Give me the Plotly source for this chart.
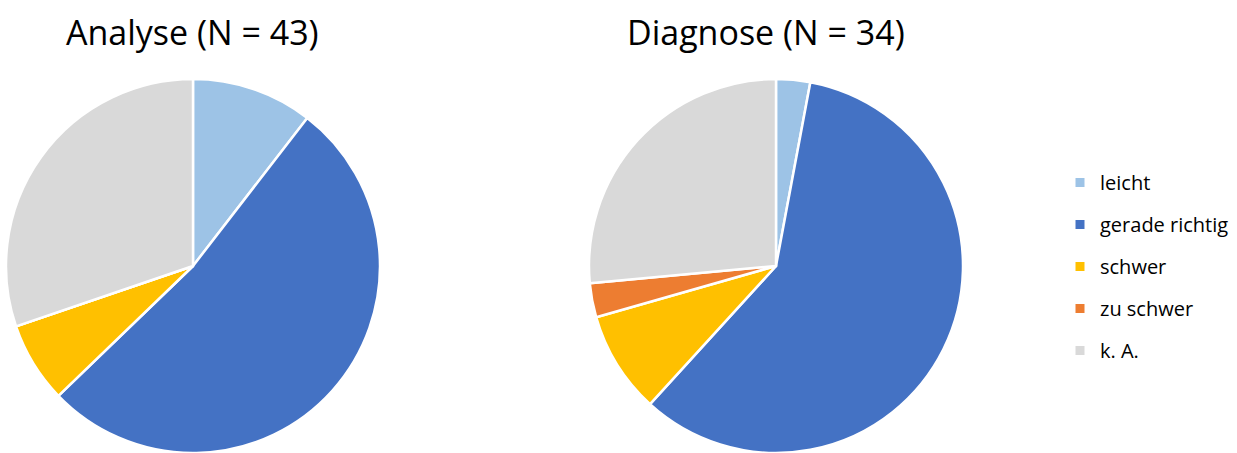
import plotly.graph_objects as go

categories = ["leicht", "gerade richtig", "schwer", "zu schwer", "k. A."]
colors = ["#9DC3E6", "#4472C4", "#FFC000", "#ED7D31", "#D9D9D9"]
analyse_values = [4.5, 22.5, 3, 0, 13]
diagnose_values = [1, 20, 3, 1, 9]
titles = ["Analyse (N = 43)", "Diagnose (N = 34)"]

W, H = 1237, 453
TOP = 79
FONT = "Open Sans"

fig = go.Figure()

def pie(values, cx, r, name):
    return go.Pie(
        labels=categories, values=values, name=name,
        marker=dict(colors=colors, line=dict(color="white", width=2.5)),
        sort=False, direction="clockwise", rotation=0,
        textinfo="none", hoverinfo="label+value", showlegend=False,
        domain=dict(x=[(cx - r) / W, (cx + r) / W], y=[0, 1]),
    )

fig.add_trace(pie(analyse_values, 193, 190, titles[0]))
fig.add_trace(pie(diagnose_values, 776, 190, titles[1]))

# legend entries
for cat, col in zip(categories, colors):
    fig.add_trace(go.Scatter(
        x=[None], y=[None], mode="markers", name=cat, legendgroup=cat,
        marker=dict(symbol="square", size=9, color=col),
        showlegend=True,
    ))

for t, cx in zip(titles, [192, 766]):
    fig.add_annotation(text=t, x=cx / W, y=1, xref="paper", yref="paper",
                       xanchor="center", yanchor="middle", showarrow=False,
                       yshift=TOP - 32, font=dict(size=34, color="#000000", family=FONT))

fig.update_layout(
    width=W, height=H,
    margin=dict(l=0, r=0, t=TOP, b=0),
    paper_bgcolor="white", plot_bgcolor="white",
    xaxis=dict(visible=False), yaxis=dict(visible=False),
    legend=dict(x=1060 / W, y=(H - 163) / (H - TOP), xanchor="left", yanchor="top",
                font=dict(size=20, family=FONT, color="#000000"),
                tracegroupgap=13, itemwidth=30, bgcolor="rgba(0,0,0,0)"),
    font=dict(family=FONT),
)

fig.write_html("out.html", config={"displayModeBar": False},
               post_script="document.body.style.margin='0';document.body.style.overflow='hidden';")
